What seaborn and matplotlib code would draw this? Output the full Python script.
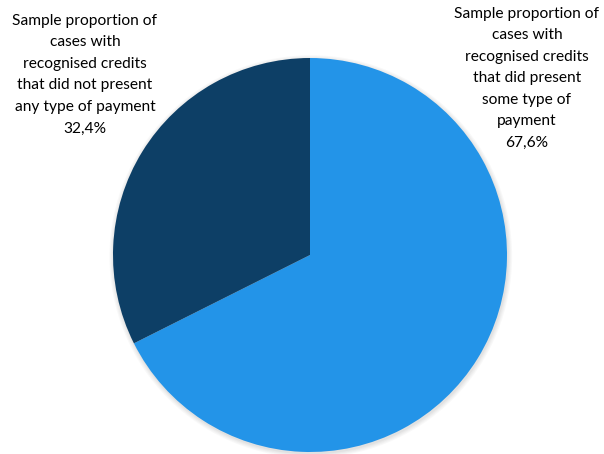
import matplotlib
matplotlib.use("Agg")
import matplotlib.pyplot as plt
from matplotlib.patches import Circle
import seaborn as sns

# data
labels = ["Sample proportion of\ncases with\nrecognised credits\nthat did present\nsome type of\npayment",
          "Sample proportion of\ncases with\nrecognised credits\nthat did not present\nany type of payment"]
shares = [67.6, 32.4]
colors = ["#2394E8", "#0D3F66"]

sns.set_theme(style="white")
plt.rcParams['font.family'] = ['Lato', 'DejaVu Sans']

W, H = 604, 454
fig = plt.figure(figsize=(W / 100, H / 100), dpi=100)
fig.patch.set_facecolor("white")

# pie centre ~ (310, 255) px, radius ~197 px
cx, cy, r = 310, 255, 197
pad = 1.05
ax = fig.add_axes([(cx - r * pad) / W, (H - cy - r * pad) / H,
                   2 * r * pad / W, 2 * r * pad / H])
ax.axis("off")

# soft grey shadow behind the pie
for i, a in enumerate([0.05, 0.05, 0.06, 0.08]):
    ax.add_patch(Circle((0.004, -0.008), 1.022 - i * 0.006, color="grey",
                        alpha=a, lw=0, zorder=0))

ax.pie(shares, colors=colors, startangle=90, counterclock=False,
       radius=1, wedgeprops=dict(linewidth=0), frame=False)
ax.set_xlim(-pad, pad)
ax.set_ylim(-pad, pad)
ax.set_aspect("equal")

def label_text(txt, pct):
    return txt + "\n" + f"{pct:.1f}%".replace(".", ",")

fig.text(527 / W, 1 - 7 / H, label_text(labels[0], shares[0]),
         ha="center", va="top", fontsize=11.2, linespacing=1.68, color="black")
fig.text(85 / W, 1 - 14 / H, label_text(labels[1], shares[1]),
         ha="center", va="top", fontsize=11.2, linespacing=1.68, color="black")

fig.savefig("out.png", dpi=100, facecolor="white")
